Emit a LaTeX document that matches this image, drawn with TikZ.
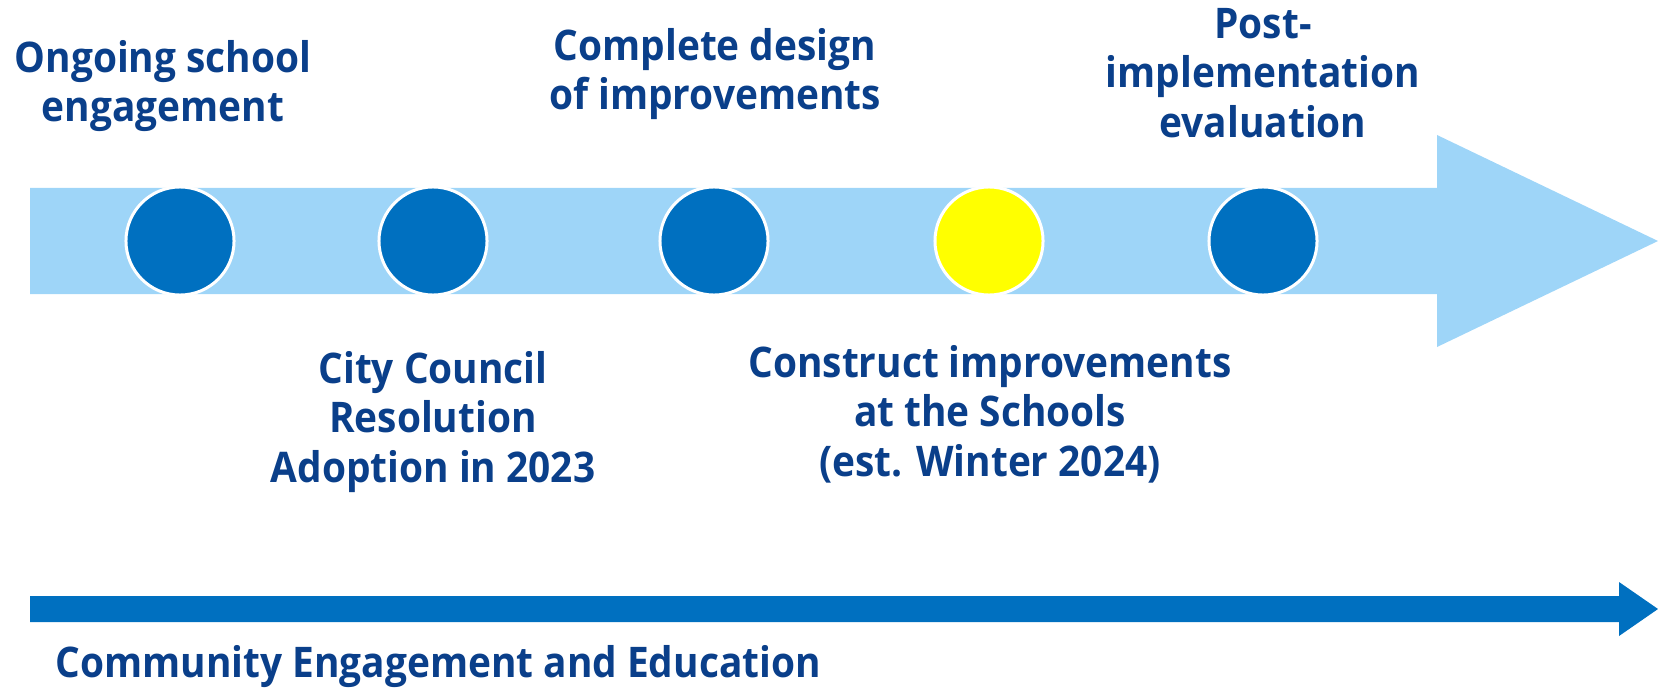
\documentclass[tikz,border=0pt]{standalone}
\usepackage{fontspec}
\setmainfont{Open Sans}[FakeStretch=0.92]
\usepackage{tikz}
\usetikzlibrary{positioning}
\definecolor{barblue}{HTML}{9ED5F8}
\definecolor{dotblue}{HTML}{0070C0}
\definecolor{textblue}{HTML}{0A3F8A}
\definecolor{nowyellow}{RGB}{255,255,0}

\begin{document}
\begin{tikzpicture}[x=0.01cm,y=-0.01cm,
	dot/.style={circle,draw=white,line width=0.03cm,fill=dotblue,minimum size=1.08cm,inner sep=0pt},
	stage/.style={align=center,text=textblue,font=\fontsize{12}{13.95}\selectfont\bfseries,anchor=base,inner sep=0pt}]
		\useasboundingbox (0,0) rectangle (1658,688);
		% timeline arrow
		\fill[barblue] (30,188) -- (1437,188) -- (1437,135) -- (1658,241) -- (1437,347) -- (1437,294) -- (30,294) -- cycle;
		% milestones
		\node[dot] (m_0) at (180,241) {};
		\node[dot] (m_1) at (433,241) {};
		\node[dot] (m_2) at (714,241) {};
		\node[dot,fill=nowyellow] (m_3) at (989,241) {};
		\node[dot] (m_4) at (1263,241) {};
		% labels (placed at the baseline of their last line)
		\node[stage] (l_0) at (163,122) {Ongoing school\\engagement};
		\node[stage] (l_1) at (433,482) {City Council\\Resolution\\Adoption in 2023};
		\node[stage] (l_2) at (715,110) {Complete design\\of improvements};
		\node[stage] (l_3) at (990,476) {Construct improvements\\at the Schools\\(est. Winter 2024)};
		\node[stage] (l_4) at (1263,137) {Post-\\implementation\\evaluation};
		% community arrow
		\fill[dotblue] (30,596) -- (1619,596) -- (1619,582) -- (1658,609) -- (1619,636) -- (1619,622) -- (30,622) -- cycle;
		\node[stage,anchor=base west] (community) at (55,677) {Community Engagement and Education};
\end{tikzpicture}
\end{document}
